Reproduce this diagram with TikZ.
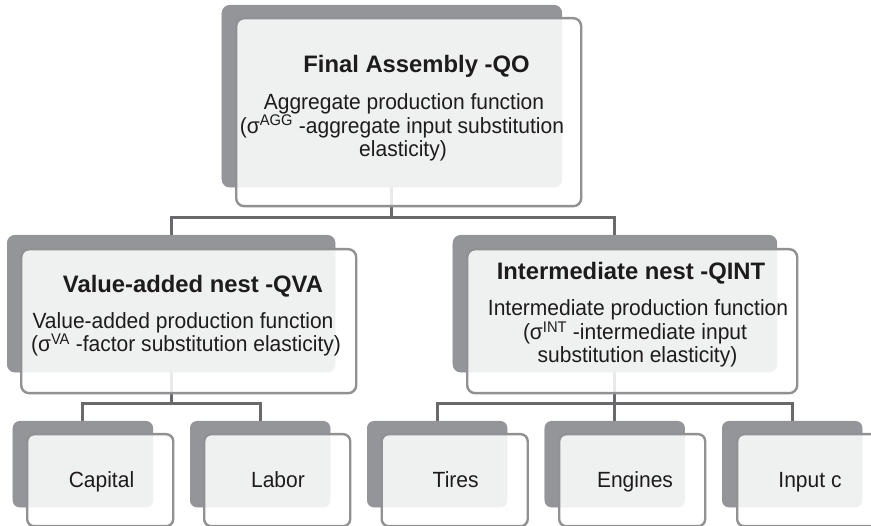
\documentclass[tikz,border=0pt]{standalone}
\usepackage{fontspec}
\setmainfont{Liberation Sans}
\newfontfamily\bodyfont[FakeStretch=0.955]{Liberation Sans}
\definecolor{backgray}{RGB}{147,149,152}
\definecolor{edgegray}{RGB}{145,145,147}
\definecolor{conngray}{RGB}{105,105,107}
\definecolor{txt}{RGB}{30,27,28}
\begin{document}
\begin{tikzpicture}[x=1pt,y=-1pt,
  back/.style={fill=backgray, rounded corners=8pt, inner sep=0pt, anchor=north west},
  front/.style={draw=edgegray, line width=2.4pt, fill=white, fill opacity=0.86, rounded corners=8pt, inner sep=0pt, anchor=north west},
  conn/.style={draw=conngray, line width=3pt},
  ttl/.style={font=\fontsize{23.8}{26}\selectfont\bfseries, text=txt, anchor=base, inner sep=0pt},
  body/.style={font=\bodyfont\fontsize{22}{24}\selectfont, text=txt, anchor=base, inner sep=0pt},
]
\useasboundingbox (0,0) rectangle (871,526);
\clip (0,0) rectangle (871,526);
% back boxes
\node[back, minimum width=340pt, minimum height=182pt] (topback) at (221.7,5) {};
\node[back, minimum width=328pt, minimum height=137pt] (vaback) at (7,235) {};
\node[back, minimum width=324pt, minimum height=137pt] (intback) at (452.7,235) {};
\node[back, minimum width=140pt, minimum height=86pt] (capback) at (12.7,421) {};
\node[back, minimum width=140pt, minimum height=86pt] (labback) at (190,421) {};
\node[back, minimum width=140pt, minimum height=86pt] (tirback) at (367,421) {};
\node[back, minimum width=140pt, minimum height=86pt] (engback) at (544.5,421) {};
\node[back, minimum width=140pt, minimum height=86pt] (inpback) at (722,421) {};
% bus coordinates
\coordinate (bus1) at (0,218);
\coordinate (bus2) at (0,404);
% connectors
\draw[conn] (topback.center) -- (topback.center |- bus1) -| (vaback.north);
\draw[conn] (topback.center |- bus1) -| (intback.north);
\draw[conn] (vaback.center) -- (vaback.center |- bus2) -| (capback.north);
\draw[conn] (vaback.center |- bus2) -| (labback.north);
\draw[conn] (intback.center) -- (intback.center |- bus2) -| (tirback.north);
\draw[conn] (intback.center |- bus2) -| (engback.north);
\draw[conn] (intback.center |- bus2) -| (inpback.north);
% redraw back boxes over connectors
\fill[backgray, rounded corners=8pt] (topback.north west) rectangle (topback.south east);
\fill[backgray, rounded corners=8pt] (vaback.north west) rectangle (vaback.south east);
\fill[backgray, rounded corners=8pt] (intback.north west) rectangle (intback.south east);
\fill[backgray, rounded corners=7pt] (capback.north west) rectangle (capback.south east);
\fill[backgray, rounded corners=7pt] (labback.north west) rectangle (labback.south east);
\fill[backgray, rounded corners=7pt] (tirback.north west) rectangle (tirback.south east);
\fill[backgray, rounded corners=7pt] (engback.north west) rectangle (engback.south east);
\fill[backgray, rounded corners=7pt] (inpback.north west) rectangle (inpback.south east);
% front boxes
\node[front, minimum width=345pt, minimum height=188pt] (topfront) at (235,17) {};
\node[front, minimum width=335pt, minimum height=144pt] (vafront) at (20,248) {};
\node[front, minimum width=330pt, minimum height=144pt] (intfront) at (466,248) {};
\node[front, rounded corners=7pt, minimum width=146pt, minimum height=92pt] (capfront) at (26,433) {};
\node[front, rounded corners=7pt, minimum width=146pt, minimum height=92pt] (labfront) at (203,433) {};
\node[front, rounded corners=7pt, minimum width=146pt, minimum height=92pt] (tirfront) at (380.5,433) {};
\node[front, rounded corners=7pt, minimum width=146pt, minimum height=92pt] (engfront) at (558,433) {};
\node[front, rounded corners=7pt, minimum width=146pt, minimum height=92pt] (inpfront) at (736,433) {};
% texts
\node[ttl] (toptitle) at (416.5,72.5) {Final Assembly -QO};
\node[body] (topl1) at (404,109.5) {Aggregate production function};
\node[body] (topl2) at (402,133.5) {(σ\textsuperscript{AGG} -aggregate input substitution};
\node[body] (topl3) at (403,157) {elasticity)};
\node[ttl] (vatitle) at (193,292.7) {Value-added nest -QVA};
\node[body] (val1) at (183,329) {Value-added production function};
\node[body] (val2) at (186,351.7) {(σ\textsuperscript{VA} -factor substitution elasticity)};
\node[ttl] (inttitle) at (631,280) {Intermediate nest -QINT};
\node[body] (intl1) at (638,316) {Intermediate production function};
\node[body] (intl2) at (635,340) {(σ\textsuperscript{INT} -intermediate input};
\node[body] (intl3) at (637.5,363) {substitution elasticity)};
\node[body] (captxt) at (101.5,487.5) {Capital};
\node[body] (labtxt) at (278,487.5) {Labor};
\node[body] (tirtxt) at (455.7,487.5) {Tires};
\node[body] (engtxt) at (635,487.5) {Engines};
\node[body] (inptxt) at (810,487.5) {Input c};
\end{tikzpicture}
\end{document}
